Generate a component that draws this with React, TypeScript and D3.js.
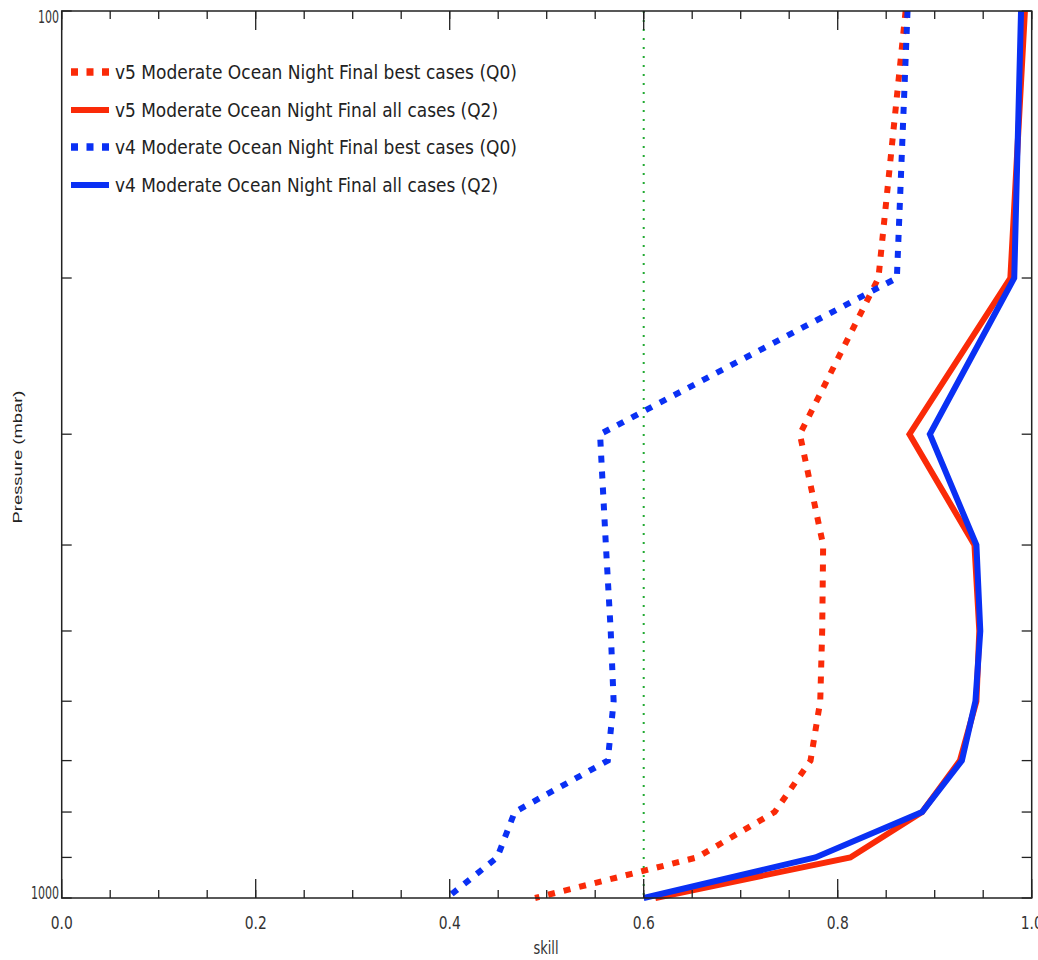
import React from "react";
import * as d3 from "d3";

const pressure = [100, 200, 300, 400, 500, 600, 700, 800, 900, 1000];
const v5Best = [0.870, 0.842, 0.761, 0.785, 0.784, 0.782, 0.772, 0.735, 0.655, 0.488];
const v5All = [0.993, 0.978, 0.874, 0.941, 0.946, 0.943, 0.926, 0.887, 0.813, 0.612];
const v4Best = [0.872, 0.861, 0.555, 0.561, 0.566, 0.569, 0.563, 0.467, 0.449, 0.397];
const v4All = [0.989, 0.982, 0.895, 0.943, 0.947, 0.942, 0.928, 0.887, 0.777, 0.600];

const xTickLabels = ["0.0", "0.2", "0.4", "0.6", "0.8", "1.0"];
const xMajor = [0, 0.2, 0.4, 0.6, 0.8, 1.0];
const xMinor = d3.range(0, 1.0001, 0.05);
const yTicks = [100, 200, 300, 400, 500, 600, 700, 800, 900, 1000];
const yTickLabels = ["100", "1000"];

const RED = "#fa2a08";
const BLUE = "#0a30f4";

const series = [
  { name: "v5 Moderate Ocean Night Final best cases (Q0)", values: v5Best, color: RED, dashed: true, tl: 402 },
  { name: "v5 Moderate Ocean Night Final all cases (Q2)", values: v5All, color: RED, dashed: false, tl: 383 },
  { name: "v4 Moderate Ocean Night Final best cases (Q0)", values: v4Best, color: BLUE, dashed: true, tl: 402 },
  { name: "v4 Moderate Ocean Night Final all cases (Q2)", values: v4All, color: BLUE, dashed: false, tl: 383 },
];

const FONT = "'Liberation Sans Narrow', 'DejaVu Sans Condensed', 'Liberation Sans', Arial, sans-serif";

export default function App() {
  const W = 1038, H = 960;
  const x0 = 61.7, x1 = 1031.7, y0 = 11, y1 = 898;
  const x = d3.scaleLinear().domain([0, 1]).range([x0, x1]);
  const y = d3.scaleLog().domain([100, 1000]).range([y0, y1]);
  const line = d3
    .line<number>()
    .x((d) => x(d))
    .y((_, i) => y(pressure[i]));

  const legendY = [72, 110, 147, 185];

  return (
    <svg width={W} height={H} style={{ position: "absolute", left: 0, top: 0, background: "#fff" }}>
      <rect x={0} y={0} width={W} height={H} fill="#fff" />
      {/* reference line */}
      <line x1={x(0.6)} x2={x(0.6)} y1={y0} y2={y1} stroke="#22aa33" strokeWidth={2} strokeDasharray="2 7" />
      {/* series */}
      {series.map((s, i) => (
        <path
          key={i}
          d={line(s.values) || ""}
          fill="none"
          stroke={s.color}
          strokeWidth={6}
          strokeLinejoin="miter"
          strokeDasharray={s.dashed ? "7 9" : undefined}
        />
      ))}
      {/* frame */}
      <rect x={x0} y={y0} width={x1 - x0} height={y1 - y0} fill="none" stroke="#222" strokeWidth={1.5} />
      {/* x ticks */}
      {xMinor.map((t, i) => (
        <g key={"xm" + i}>
          <line x1={x(t)} x2={x(t)} y1={y1} y2={y1 - 8} stroke="#222" strokeWidth={1.3} />
          <line x1={x(t)} x2={x(t)} y1={y0} y2={y0 + 8} stroke="#222" strokeWidth={1.3} />
        </g>
      ))}
      {xMajor.map((t, i) => (
        <g key={"xM" + i}>
          <line x1={x(t)} x2={x(t)} y1={y1} y2={y1 - 19} stroke="#222" strokeWidth={1.3} />
          <line x1={x(t)} x2={x(t)} y1={y0} y2={y0 + 19} stroke="#222" strokeWidth={1.3} />
          <text x={x(t)} y={929} textAnchor="middle" fontFamily={FONT} fontSize={18} fill="#333" textLength={22} lengthAdjust="spacingAndGlyphs">
            {xTickLabels[i]}
          </text>
        </g>
      ))}
      {/* y ticks */}
      {yTicks.map((t, i) => (
        <g key={"y" + i}>
          <line x1={x0} x2={x0 + 10} y1={y(t)} y2={y(t)} stroke="#222" strokeWidth={1.3} />
          <line x1={x1} x2={x1 - 10} y1={y(t)} y2={y(t)} stroke="#222" strokeWidth={1.3} />
        </g>
      ))}
      <text x={59} y={23} textAnchor="end" fontFamily={FONT} fontSize={18} fill="#333" textLength={21} lengthAdjust="spacingAndGlyphs">
        {yTickLabels[0]}
      </text>
      <text x={59} y={899} textAnchor="end" fontFamily={FONT} fontSize={18} fill="#333" textLength={28} lengthAdjust="spacingAndGlyphs">
        {yTickLabels[1]}
      </text>
      {/* axis titles */}
      <text x={546} y={954} textAnchor="middle" fontFamily={FONT} fontSize={18} fill="#333" textLength={25} lengthAdjust="spacingAndGlyphs">
        skill
      </text>
      <text
        transform={`translate(22,457) rotate(-90)`}
        textAnchor="middle"
        fontFamily="'Liberation Sans', Arial, sans-serif"
        fontSize={13}
        fill="#222"
        textLength={133}
        lengthAdjust="spacingAndGlyphs"
      >
        Pressure (mbar)
      </text>
      {/* legend */}
      {series.map((s, i) => (
        <g key={"lg" + i}>
          <line
            x1={71}
            x2={109}
            y1={legendY[i]}
            y2={legendY[i]}
            stroke={s.color}
            strokeWidth={s.dashed ? 7.5 : 6}
            strokeDasharray={s.dashed ? "7 8.5" : undefined}
          />
          <text x={115} y={legendY[i] + 7} fontFamily={FONT} fontSize={19} fill="#222" textLength={s.tl} lengthAdjust="spacingAndGlyphs">
            {s.name}
          </text>
        </g>
      ))}
    </svg>
  );
}
